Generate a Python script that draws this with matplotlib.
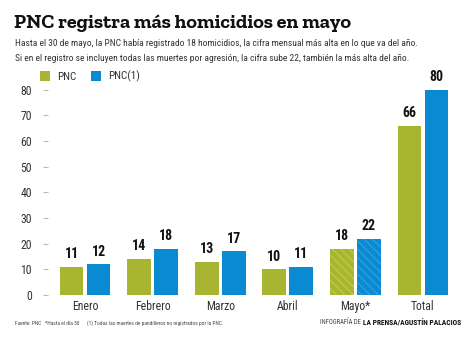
import matplotlib
matplotlib.use("Agg")
import matplotlib.pyplot as plt
import numpy as np

# datos
meses = ["Enero", "Febrero", "Marzo", "Abril", "Mayo*", "Total"]
pnc = [11, 14, 13, 10, 18, 66]
pnc1 = [12, 18, 17, 11, 22, 80]
yticks = [0, 10, 20, 30, 40, 50, 60, 70, 80]

verde = "#a8b531"
azul = "#0a8bd1"
gris = "#333333"
cond = "Roboto Condensed"

plt.rcParams["hatch.linewidth"] = 0.8

W, H = 474, 342
fig = plt.figure(figsize=(W / 100, H / 100), dpi=100)

# ejes colocados en pixeles
left, right = 48, 462
bottom, top = 295, 77
ax = fig.add_axes([left / W, (H - bottom) / H, (right - left) / W, (bottom - top) / H])

x = np.arange(len(meses))
ancho = 0.35
b1 = ax.bar(x - 0.2, pnc, ancho, color=verde, label="PNC")
b2 = ax.bar(x + 0.2, pnc1, ancho, color=azul, label="PNC(1)")

# mayo rayado (dato parcial)
b1[4].set_hatch("\\\\\\\\")
b1[4].set_edgecolor("#c3cc48")
b1[4].set_linewidth(0)
b2[4].set_hatch("\\\\\\\\")
b2[4].set_edgecolor("#35a0dc")
b2[4].set_linewidth(0)

for barras, vals in [(b1, pnc), (b2, pnc1)]:
    for b, v in zip(barras, vals):
        ax.text(b.get_x() + b.get_width() / 2, v + 2.2, str(v), ha="center", va="bottom",
                fontsize=10, fontweight="bold", family=cond, color="#111111")

ax.set_xlim(-0.55, 5.58)
ax.set_ylim(0, 85)
ax.set_yticks(yticks)
ax.set_xticks(x)
ax.set_xticklabels(meses, family=cond, fontsize=8.5, color=gris)
for lab in ax.get_yticklabels():
    lab.set_family(cond)
    lab.set_fontsize(8.5)
    lab.set_color(gris)
ax.tick_params(axis="y", length=3.5, color="#bbbbbb", pad=8)
ax.tick_params(axis="x", length=0, pad=3.5)
for s in ax.spines.values():
    s.set_visible(False)

ax.legend(loc="upper left", bbox_to_anchor=(40 / W, (H - 71) / H), bbox_transform=fig.transFigure,
          ncol=2, frameon=False, handlelength=0.9, handleheight=0.9, handletextpad=0.6,
          columnspacing=1.4, borderpad=0, borderaxespad=0,
          prop={"family": cond, "size": 8})
for t in ax.get_legend().get_texts():
    t.set_color(gris)

# titulo y subtitulo
fig.text(14 / W, 1 - 23 / H, "PNC registra más homicidios en mayo", fontsize=14.5,
         fontweight="bold", family="Zilla Slab", va="center", color="#111111")
fig.text(15 / W, 1 - 43 / H,
         "Hasta el 30 de mayo, la PNC había registrado 18 homicidios, la cifra mensual más alta en lo que va del año.",
         fontsize=6.8, family=cond, va="center", color=gris)
fig.text(15 / W, 1 - 58 / H,
         "Si en el registro se incluyen todas las muertes por agresión, la cifra sube 22, también la más alta del año.",
         fontsize=6.8, family=cond, va="center", color=gris)

# pie
fig.text(15 / W, 1 - 323 / H,
         "Fuente: PNC   *Hasta el día 30      (1) Todas las muertes de pandilleros no registrados por la PNC.",
         fontsize=3.9, family=cond, va="center", color="#444444")
firma = fig.text(461 / W, 1 - 323 / H, "LA PRENSA/AGUSTÍN PALACIOS", fontsize=5.4, family=cond,
                 fontweight="bold", va="center", ha="right", color="#111111")
fig.canvas.draw()
caja = firma.get_window_extent()
fig.text((caja.x0 - 1.5) / W, 1 - 323 / H, "INFOGRAFÍA DE", fontsize=4.8, family=cond,
         va="center", ha="right", color="#444444")

fig.savefig("out.png", dpi=100)
